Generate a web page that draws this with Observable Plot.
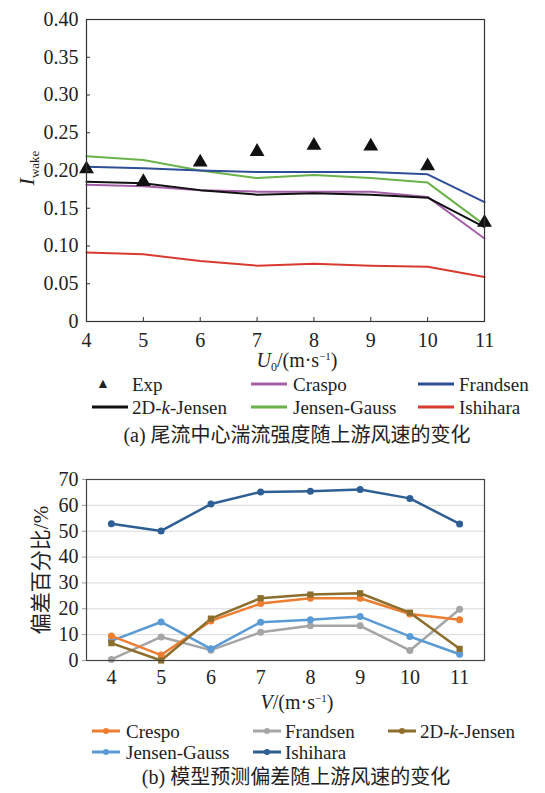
<!DOCTYPE html>
<html><head><meta charset="utf-8">
<style>
#root, #root *, #root svg text, #root svg tspan { font-family: 'Liberation Serif','Noto Sans CJK SC',serif !important; }
</style>
<script src="https://cdn.jsdelivr.net/npm/d3@7"></script>
<script src="https://cdn.jsdelivr.net/npm/@observablehq/plot@0.6"></script>
</head><body style="margin:0;background:#fff"><div id="root" style="position:relative;width:545px;height:793px;overflow:hidden;font-family:'Liberation Serif','Noto Sans CJK SC',serif;color:#222"></div>
<script>
// ---------- data: chart (a) ----------
const windSpeeds = [4, 5, 6, 7, 8, 9, 10, 11];
const expValues = [0.202, 0.185, 0.211, 0.225, 0.233, 0.232, 0.206, 0.131];
const craspoValues = [0.181, 0.179, 0.174, 0.172, 0.172, 0.172, 0.165, 0.110];
const frandsenValues = [0.205, 0.203, 0.200, 0.198, 0.198, 0.198, 0.195, 0.158];
const jensen2dkValues = [0.185, 0.183, 0.174, 0.168, 0.170, 0.168, 0.164, 0.125];
const jensenGaussValues = [0.219, 0.214, 0.200, 0.190, 0.194, 0.190, 0.184, 0.128];
const ishiharaValues = [0.0915, 0.089, 0.080, 0.074, 0.0765, 0.074, 0.0725, 0.059];
const yTicksA = [0, 0.05, 0.10, 0.15, 0.20, 0.25, 0.30, 0.35, 0.40];

// ---------- data: chart (b) ----------
const devCrespo = [9.5, 2.1, 15.3, 22.0, 24.1, 24.1, 18.0, 15.8];
const devFrandsen = [0.4, 9.1, 4.0, 10.9, 13.4, 13.4, 3.9, 19.8];
const devJensen2dk = [6.7, 0.0, 16.2, 24.1, 25.5, 26.0, 18.5, 4.5];
const devJensenGauss = [7.6, 14.9, 4.5, 14.8, 15.8, 17.0, 9.3, 2.4];
const devIshihara = [52.9, 50.1, 60.5, 65.2, 65.5, 66.1, 62.7, 52.8];
const yTicksB = [0, 10, 20, 30, 40, 50, 60, 70];

const root = document.getElementById("root");
const FONT = "'Liberation Serif','Noto Sans CJK SC',serif";

function table(values) { return windSpeeds.map((x, i) => ({x, y: values[i]})); }

// ---------- chart (a) ----------
const seriesA = [
  {name: "Ishihara", values: ishiharaValues, color: "#d93a30"},
  {name: "Craspo", values: craspoValues, color: "#a45fa8"},
  {name: "2D-k-Jensen", values: jensen2dkValues, color: "#111111"},
  {name: "Jensen-Gauss", values: jensenGaussValues, color: "#6bb24a"},
  {name: "Frandsen", values: frandsenValues, color: "#2f4e98"}
];
const plotA = Plot.plot({
  width: 545, height: 345,
  marginLeft: 86, marginRight: 61, marginTop: 19, marginBottom: 24,
  style: {fontFamily: FONT, fontSize: "20px", background: "transparent", overflow: "visible"},
  x: {domain: [4, 11]},
  y: {domain: [0, 0.4]},
  marks: [
    ...seriesA.map(s => Plot.line(table(s.values), {x: "x", y: "y", stroke: s.color, strokeWidth: 2})),
    Plot.dot(table(expValues), {x: "x", y: "y", symbol: "triangle", fill: "#111", r: 5.5}),
    Plot.frame({stroke: "#333", strokeWidth: 1.2}),
    Plot.axisX({ticks: windSpeeds, tickSize: -4, tickPadding: 15, label: null, stroke: "#333",
      tickFormat: d => String(d)}),
    Plot.axisY({ticks: yTicksA, tickSize: -4, tickPadding: 12, label: null, stroke: "#333",
      tickFormat: d => d === 0 ? "0" : d.toFixed(2)})
  ]
});
const divA = document.createElement("div");
divA.style.position = "absolute"; divA.style.left = "0px"; divA.style.top = "0px";
divA.appendChild(plotA); root.appendChild(divA);

// ---------- chart (b) ----------
const seriesB = [
  {name: "Frandsen", values: devFrandsen, color: "#a5a5a5"},
  {name: "Jensen-Gauss", values: devJensenGauss, color: "#5b9bd5"},
  {name: "Crespo", values: devCrespo, color: "#ed7d31"},
  {name: "2D-k-Jensen", values: devJensen2dk, color: "#8c6d2c"},
  {name: "Ishihara", values: devIshihara, color: "#2e5f94"}
];
const plotB = Plot.plot({
  width: 545, height: 230,
  marginLeft: 86, marginRight: 61, marginTop: 19, marginBottom: 30,
  style: {fontFamily: FONT, fontSize: "20px", background: "transparent", overflow: "visible"},
  x: {domain: [3.5, 11.5]},
  y: {domain: [0, 70]},
  marks: [
    Plot.gridY({ticks: yTicksB, stroke: "#d9d9d9", strokeOpacity: 1}),
    ...seriesB.map(s => Plot.line(table(s.values), {x: "x", y: "y", stroke: s.color, strokeWidth: 2.5})),
    ...seriesB.map(s => Plot.dot(table(s.values), {x: "x", y: "y", fill: s.color, r: 3.5,
      symbol: s.name === "2D-k-Jensen" ? "square" : "circle"})),
    Plot.frame({stroke: "#444", strokeWidth: 1.2}),
    Plot.axisX({ticks: windSpeeds, tickSize: 0, tickPadding: 9, label: null, tickFormat: d => String(d)}),
    Plot.axisY({ticks: yTicksB, tickSize: 4, tickPadding: 4, label: null, stroke: "#999"})
  ]
});
const divB = document.createElement("div");
divB.style.position = "absolute"; divB.style.left = "0px"; divB.style.top = "460px";
divB.appendChild(plotB); root.appendChild(divB);

// ---------- text helpers ----------
function text(html, x, y, mode, size, transform) {
  const d = document.createElement("div");
  d.innerHTML = html;
  Object.assign(d.style, {
    position: "absolute", whiteSpace: "nowrap", lineHeight: "1",
    left: x + "px", top: y + "px", fontSize: (size || 20) + "px",
    transform: transform || (mode === "c" ? "translate(-50%,-50%)" : "translate(0,-50%)")
  });
  root.appendChild(d);
  return d;
}
function lineSwatch(x, y, w, color, dot) {
  const s = document.createElementNS("http://www.w3.org/2000/svg", "svg");
  s.setAttribute("width", w); s.setAttribute("height", 10);
  s.style.position = "absolute"; s.style.left = x + "px"; s.style.top = (y - 5) + "px";
  s.innerHTML = `<line x1="0" y1="5" x2="${w}" y2="5" stroke="${color}" stroke-width="3"/>` +
    (dot ? `<circle cx="${w / 2}" cy="5" r="3" fill="${color}"/>` : "");
  root.appendChild(s);
}

// y label (a)
text('<i>I</i><span style="font-size:13px;position:relative;top:5px">wake</span>', 27, 168, "c", 22,
  "translate(-50%,-50%) rotate(-90deg)");
// x label (a)
text('<i>U</i><span style="font-size:12px;position:relative;top:4px">0</span>/(m·s<span style="font-size:11px;position:relative;top:-7px">−1</span>)', 297, 360, "c", 20);

// legend (a)
text("▲", 103, 384, "c", 14);
text("Exp", 132, 384, "l", 19);
lineSwatch(251, 384, 36, "#a45fa8");
text("Craspo", 293, 384, "l", 19);
lineSwatch(418, 384, 36, "#2f4e98");
text("Frandsen", 459, 384, "l", 19);
lineSwatch(92, 407, 36, "#111111");
text("2D-<i>k</i>-Jensen", 132, 407, "l", 19);
lineSwatch(251, 407, 36, "#6bb24a");
text("Jensen-Gauss", 293, 407, "l", 19);
lineSwatch(418, 407, 36, "#d93a30");
text("Ishihara", 459, 407, "l", 19);
text("(a) 尾流中心湍流强度随上游风速的变化", 297, 435, "c", 20);

// y label (b)
text("偏差百分比/%", 41, 570, "c", 21, "translate(-50%,-50%) rotate(-90deg)");
// x label (b)
text('<i>V</i>/(m·s<span style="font-size:11px;position:relative;top:-7px">−1</span>)', 297, 702, "c", 20);

// legend (b)
lineSwatch(92, 731, 28, "#ed7d31", true);
text("Crespo", 126, 731, "l", 19);
lineSwatch(253, 731, 28, "#a5a5a5", true);
text("Frandsen", 285, 731, "l", 19);
lineSwatch(388, 731, 28, "#8c6d2c", true);
text("2D-<i>k</i>-Jensen", 420, 731, "l", 19);
lineSwatch(92, 752, 28, "#5b9bd5", true);
text("Jensen-Gauss", 126, 752, "l", 19);
lineSwatch(253, 752, 28, "#2e5f94", true);
text("Ishihara", 285, 752, "l", 19);
text("(b) 模型预测偏差随上游风速的变化", 296, 777, "c", 20);
</script></body></html>
